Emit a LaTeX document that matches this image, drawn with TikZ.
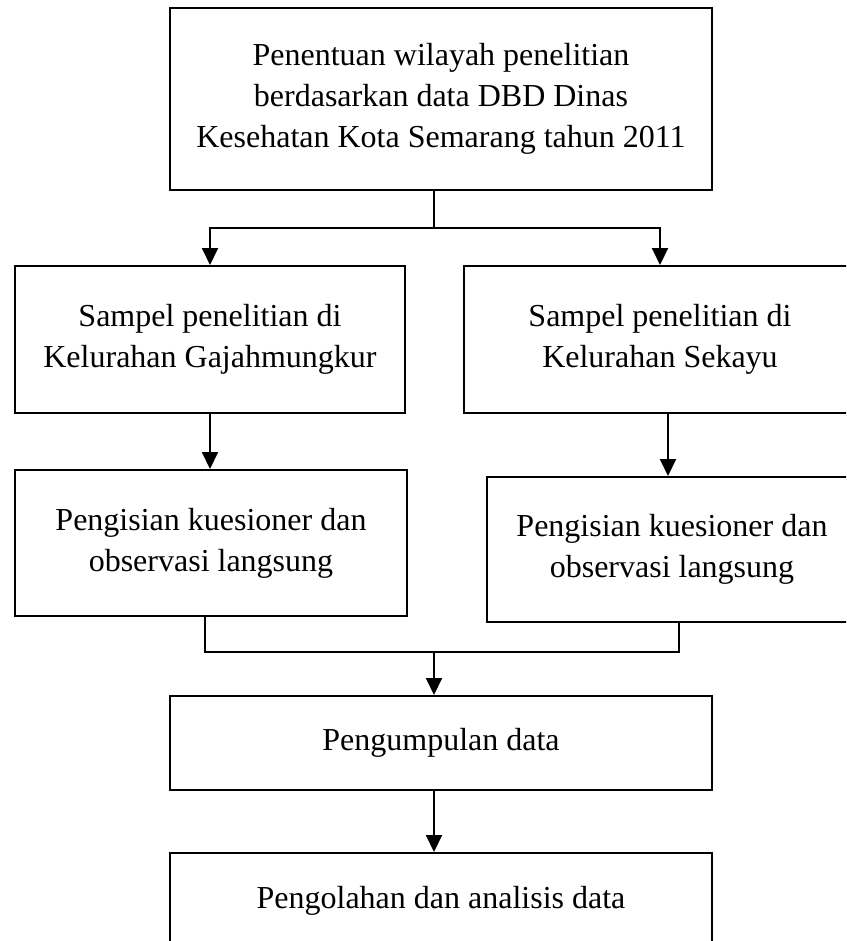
\documentclass[tikz,border=0pt]{standalone}
\usepackage{fontspec}
\setmainfont{Liberation Serif}
\usepackage{tikz}
\usetikzlibrary{arrows.meta,positioning,calc}
\tikzset{
    alurbox/.style={draw, line width=1pt, align=center, inner sep=2pt, font=\fontsize{16}{20.5}\selectfont},
    alurline/.style={line width=1pt},
    alurarrow/.style={line width=1pt, -{Triangle[width=8pt,length=8.5pt]}}
}
\begin{document}
\begin{tikzpicture}[x=0.5pt, y=-0.5pt]
        \useasboundingbox (0,0) rectangle (846,941);
        \begin{scope}
        \clip (0,0) rectangle (846,941);
        \node[alurbox, minimum width=271pt, minimum height=91pt] (lokasi) at (441,99) {Penentuan wilayah penelitian\\berdasarkan data DBD Dinas\\Kesehatan Kota Semarang tahun 2011};
        \node[alurbox, minimum width=195pt, minimum height=73.5pt] (sampelA) at (210,339.5) {Sampel penelitian di\\Kelurahan Gajahmungkur};
        \node[alurbox, minimum width=196pt, minimum height=73.5pt] (sampelB) at (660,339.5) {Sampel penelitian di\\Kelurahan Sekayu};
        \node[alurbox, minimum width=196pt, minimum height=73pt] (isiA) at (211,543) {Pengisian kuesioner dan\\observasi langsung};
        \node[alurbox, minimum width=185pt, minimum height=72.5pt] (isiB) at (672,549.5) {Pengisian kuesioner dan\\observasi langsung};
        \node[alurbox, minimum width=271pt, minimum height=47pt] (kumpul) at (441,743) {Pengumpulan data};
        \node[alurbox, minimum width=271pt, minimum height=48pt] (olah) at (441,901) {Pengolahan dan analisis data};
        \end{scope}

        \coordinate (split) at (434,228);
        \coordinate (merge) at (434,652);

        \draw[alurline] (lokasi.south -| split) -- (split);
        \draw[alurarrow] (split) -| (sampelA.north);
        \draw[alurarrow] (split) -| (sampelB.north);
        \draw[alurarrow] (sampelA.south) -- (sampelA.south |- isiA.north);
        \draw[alurarrow] ([xshift=4pt]sampelB.south) -- ([xshift=4pt]sampelB.south |- isiB.north);
        \draw[alurline] ([xshift=-3pt]isiA.south) |- (merge) -| ([xshift=3.5pt]isiB.south);
        \draw[alurarrow] (merge) -- (merge |- kumpul.north);
        \draw[alurarrow] (kumpul.south -| merge) -- (olah.north -| merge);
    \end{tikzpicture}
\end{document}
